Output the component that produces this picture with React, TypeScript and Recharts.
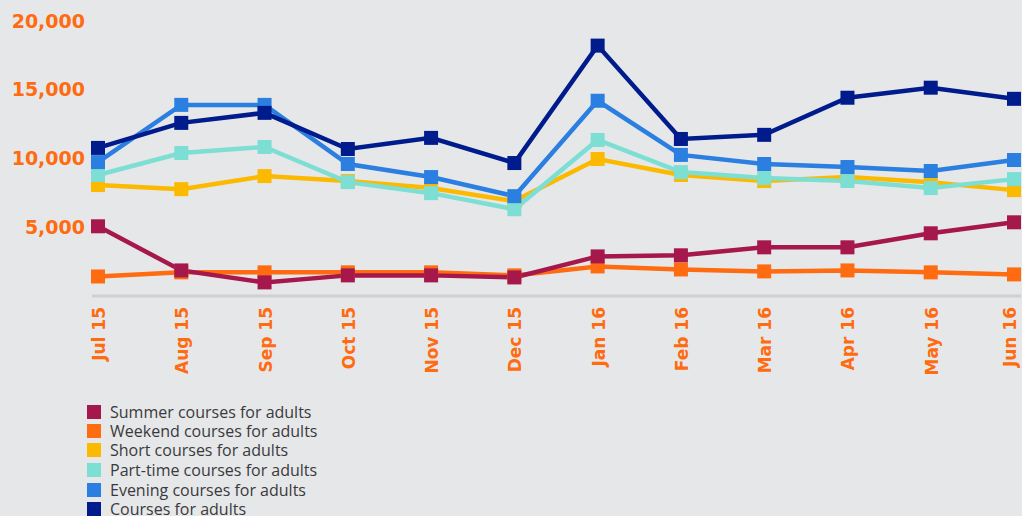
import React from "react";
import { LineChart, Line, XAxis, YAxis } from "recharts";

const months = ["Jul 15", "Aug 15", "Sep 15", "Oct 15", "Nov 15", "Dec 15", "Jan 16", "Feb 16", "Mar 16", "Apr 16", "May 16", "Jun 16"];
const summer = [5070, 1860, 990, 1500, 1500, 1350, 2880, 2960, 3540, 3540, 4560, 5360];
const weekend = [1420, 1720, 1720, 1720, 1720, 1500, 2150, 1930, 1790, 1860, 1720, 1570];
const short = [8070, 7770, 8720, 8360, 7850, 6900, 9960, 8800, 8360, 8650, 8280, 7700];
const partTime = [8800, 10400, 10840, 8280, 7480, 6310, 11350, 9010, 8580, 8360, 7850, 8500];
const evening = [9740, 13900, 13900, 9600, 8650, 7260, 14200, 10260, 9600, 9380, 9090, 9890];
const courses = [10770, 12590, 13320, 10690, 11500, 9670, 18210, 11420, 11720, 14420, 15150, 14340];
const yTicks = [0, 5000, 10000, 15000, 20000];

const seriesDefs = [
  { key: "summer", name: "Summer courses for adults", color: "#a6174b", values: summer },
  { key: "weekend", name: "Weekend courses for adults", color: "#ff6b10", values: weekend },
  { key: "short", name: "Short courses for adults", color: "#fbb900", values: short },
  { key: "partTime", name: "Part-time courses for adults", color: "#7ddfd3", values: partTime },
  { key: "evening", name: "Evening courses for adults", color: "#2b7fe0", values: evening },
  { key: "courses", name: "Courses for adults", color: "#001b8c", values: courses },
];
const drawOrder = ["weekend", "summer", "short", "partTime", "evening", "courses"];

const data = months.map((m, i) => {
  const row: Record<string, any> = { month: m };
  seriesDefs.forEach((s) => (row[s.key] = s.values[i]));
  return row;
});

const ORANGE = "#ff6b10";
const FONT = "'DejaVu Sans', sans-serif";
const legendTops = [405, 424, 443, 463, 483, 502];

const SquareDot = (color: string) => (props: any) => {
  const { cx, cy, index } = props;
  if (cx == null || cy == null) return <g key={index} />;
  return <rect key={index} x={cx - 7} y={cy - 7} width={14} height={14} fill={color} />;
};

const XTick = (props: any) => {
  const { x, y, payload } = props;
  const ty = y + 3;
  const tx = Math.min(x + 1, 1010);
  return (
    <text
      x={tx}
      y={ty}
      transform={`rotate(-90 ${tx} ${ty})`}
      textAnchor="end"
      dominantBaseline="central"
      fill={ORANGE}
      fontFamily={FONT}
      fontWeight="bold"
      fontSize={17}
    >
      {payload.value}
    </text>
  );
};

export default function App() {
  return (
    <div style={{ position: "relative", width: 1022, height: 516, background: "#e6e7e9", overflow: "hidden" }}>
      <style>{`body{margin:0;background:#e6e7e9}`}</style>
      <LineChart width={1022} height={516} data={data} margin={{ top: 21, right: 1, left: 0, bottom: 140 }}>
        <XAxis
          dataKey="month"
          padding={{ left: 6, right: 7 }}
          axisLine={{ stroke: "#cfd0d3", strokeWidth: 3 }}
          tickLine={false}
          interval={0}
          tick={<XTick />}
          height={80}
        />
        <YAxis
          width={92}
          domain={[0, 20000]}
          ticks={yTicks}
          axisLine={false}
          tickLine={false}
          tickMargin={1}
          tickFormatter={(v: number) => (v === 0 ? "" : v.toLocaleString("en-US"))}
          tick={{ fill: ORANGE, fontFamily: FONT, fontWeight: "bold", fontSize: 19 }}
        />
        {drawOrder.map((k) => {
          const s = seriesDefs.find((d) => d.key === k)!;
          return (
            <Line
              key={s.key}
              dataKey={s.key}
              name={s.name}
              stroke={s.color}
              strokeWidth={4.5}
              dot={SquareDot(s.color)}
              activeDot={false}
              isAnimationActive={false}
            />
          );
        })}
      </LineChart>
      {seriesDefs.map((s, i) => (
        <div
          key={s.key}
          style={{
            position: "absolute",
            left: 87,
            top: legendTops[i],
            height: 14,
            lineHeight: "14px",
            display: "flex",
            alignItems: "center",
            fontFamily: "'Open Sans', sans-serif",
            fontSize: 16,
            color: "#3a3a3c",
            whiteSpace: "nowrap",
          }}
        >
          <span style={{ display: "inline-block", width: 14, height: 14, background: s.color, marginRight: 9, flex: "none" }} />
          <span>{s.name}</span>
        </div>
      ))}
    </div>
  );
}
